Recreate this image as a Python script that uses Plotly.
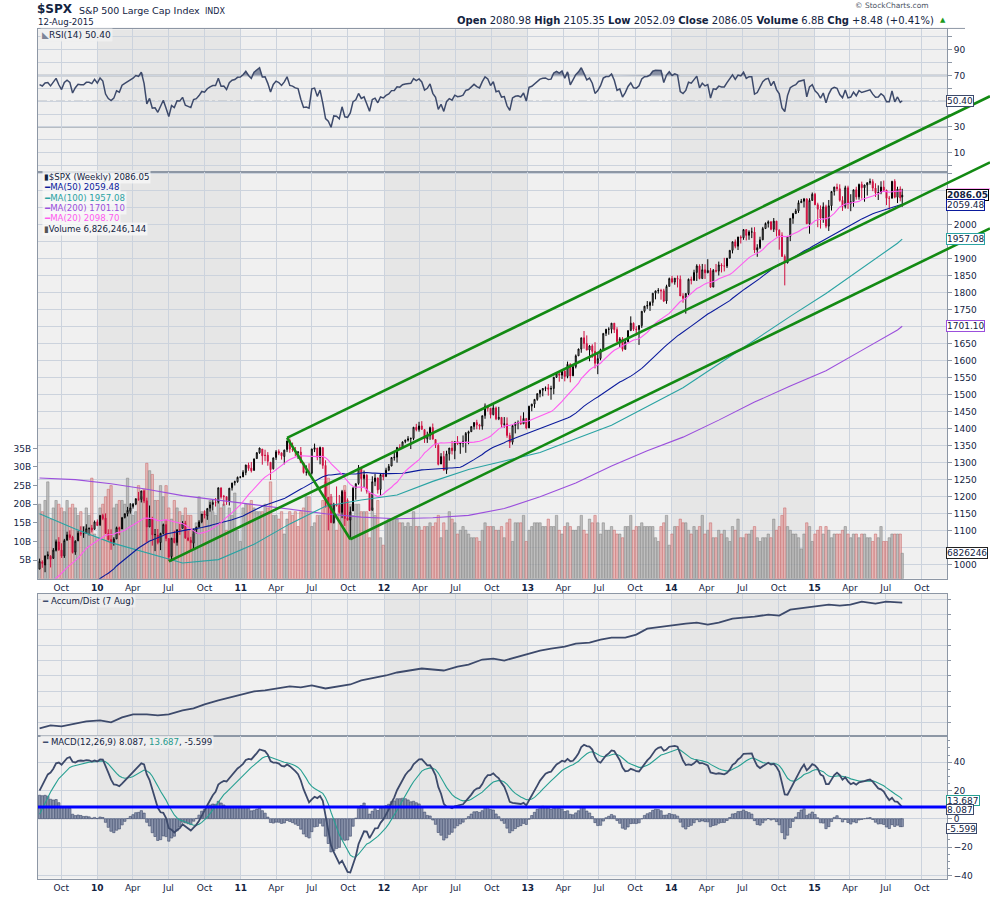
import numpy as np
import pandas as pd
import plotly.graph_objects as go

W, H = 990, 897
FONT = "DejaVu Sans, Verdana, sans-serif"
INK = "#13233f"
GRID = "#ccd3dd"
FRAME = "#8d97a5"
PANEL = "#f0f0f0"
BAND = "#e6e6e6"
LINE = "#3d4a6b"

# ---------------- data : weekly $SPX ----------------
# warm-up closes (Aug 2008 - Jul 2009) used only for indicator history
pre_closes = [1296,1298,1292,1283,1242,1252,1255,1213,1099,899,940,877,968,930,873,800,896,876,879,887,873,
              931,890,850,832,826,869,827,770,735,683,756,769,816,843,857,870,866,877,930,883,887,919,940,946,921,918,897,880,941,979,987]

opens = [
 987,1008,999,1026,1025,1019,1042,1067,1043,1026,1072,1088,1081,1037,1070,1094,1090,1092,1106,1108,1104,1126,
 1117,1145,1137,1092,1074,1066,1076,1109,1105,1139,1150,1157,1171,1178,1194,1192,1217,1188,1111,1136,1088,1087,1065,1092,1118,
 1077,1024,1078,1065,1103,1107,1122,1079,1072,1063,1102,1110,1126,1149,1144,1166,1177,1184,1185,1226,1201,1200,1186,1226,1241,1244,1257,
 1258,1271,1293,1284,1277,1312,1329,1340,1322,1322,1301,1282,1315,1333,1329,1318,1338,1365,1340,1333,1330,1331,1300,1272,1272,
 1269,1339,1343,1315,1344,1292,1198,1179,1124,1177,1174,1153,1214,1137,1131,1158,1225,1239,1284,1253,1263,1213,1160,1244,1255,1221,1265,
 1259,1278,1290,1315,1316,1345,1343,1362,1366,1370,1371,1404,1397,1408,1397,1370,1379,1403,1368,1351,1296,1318,1278,1326,1343,1335,
 1362,1355,1357,1363,1386,1391,1406,1418,1411,1407,1438,1466,1460,1441,1461,1429,1433,1412,1414,1380,1360,1409,1416,1418,1414,1430,
 1402,1466,1472,1486,1503,1513,1518,1520,1516,1518,1551,1561,1557,1569,1553,1589,1555,1582,1614,1634,1667,1650,1631,1643,1627,1592,
 1606,1632,1680,1692,1692,1710,1691,1656,1664,1633,1655,1688,1710,1692,1691,1703,1745,1760,1762,1771,1798,1805,1806,1805,1775,1818,
 1841,1831,1842,1839,1790,1783,1797,1839,1836,1859,1878,1841,1867,1858,1865,1816,1865,1863,1881,1878,1878,1901,1924,1949,1936,1963,
 1961,1985,1968,1978,1978,1925,1932,1955,1988,2003,2008,1986,2010,1983,1968,1906,1887,1965,2018,2032,2040,2064,2068,2075,2002,2071,
 2089,2058,2045,2019,2052,1995,2055,2097,2110,2105,2071,2053,2108,2061,2067,2102,2081,2118,2108,2116,2123,2126,
 2107,2093,2094,2110,2101,2077,2077,2127,2080,2104,2081]
highs = [
 1018,1013,1027,1039,1028,1049,1074,1081,1063,1076,1097,1101,1085,1072,1100,1113,1112,1119,1110,1117,1130,1133,
 1146,1150,1151,1104,1104,1081,1112,1112,1139,1151,1170,1181,1181,1195,1214,1217,1220,1197,1174,1141,1105,1105,1094,1121,1132,
 1077,1078,1100,1103,1120,1128,1129,1100,1082,1105,1112,1131,1149,1160,1167,1185,1190,1196,1227,1226,1205,1200,1225,1241,1247,1259,1260,
 1278,1294,1300,1302,1312,1331,1344,1340,1338,1331,1302,1315,1337,1339,1329,1338,1364,1371,1359,1346,1334,1346,1300,1292,1298,
 1341,1356,1343,1347,1346,1307,1199,1208,1182,1230,1205,1220,1220,1195,1171,1228,1239,1293,1284,1277,1266,1213,1260,1267,1256,1266,1270,
 1285,1296,1316,1334,1345,1354,1362,1368,1378,1374,1405,1414,1420,1422,1398,1391,1406,1415,1368,1354,1328,1334,1335,1343,1364,1362,
 1378,1357,1380,1390,1394,1407,1419,1426,1414,1438,1474,1467,1460,1471,1465,1464,1434,1434,1433,1388,1409,1420,1424,1438,1448,1430,
 1467,1473,1486,1503,1514,1519,1524,1531,1526,1552,1564,1563,1570,1573,1597,1592,1586,1618,1635,1667,1687,1674,1646,1648,1654,1620,
 1635,1680,1693,1698,1710,1710,1698,1669,1669,1664,1689,1730,1712,1701,1704,1745,1760,1775,1774,1798,1805,1813,1811,1811,1823,1844,
 1849,1843,1850,1850,1798,1798,1841,1847,1867,1883,1883,1884,1883,1898,1872,1869,1884,1891,1886,1902,1901,1924,1950,1956,1964,1968,
 1986,1985,1983,1991,1992,1942,1964,1993,2006,2012,2009,2019,2010,1986,1977,1912,1965,2018,2034,2046,2071,2075,2078,2077,2077,2094,
 2093,2064,2056,2065,2058,2072,2097,2111,2120,2118,2083,2114,2114,2089,2102,2111,2120,2126,2117,2123,2135,2133,
 2121,2115,2127,2129,2102,2084,2128,2133,2111,2112,2105]
lows = [
 987,991,978,1016,992,1017,1039,1041,1020,1020,1071,1073,1033,1029,1070,1085,1079,1092,1086,1095,1104,1115,
 1114,1131,1091,1071,1044,1056,1076,1087,1105,1136,1142,1150,1165,1175,1188,1183,1181,1066,1111,1056,1040,1060,1043,1089,1069,
 1011,1010,1063,1056,1088,1107,1076,1069,1040,1048,1092,1110,1122,1136,1132,1156,1159,1171,1180,1194,1173,1176,1174,1218,1233,1241,1254,
 1258,1263,1276,1271,1277,1311,1326,1294,1304,1291,1249,1280,1308,1322,1309,1295,1331,1329,1332,1319,1311,1299,1268,1262,1262,
 1265,1331,1307,1295,1282,1168,1101,1122,1121,1171,1150,1137,1114,1131,1075,1158,1191,1235,1215,1226,1209,1158,1160,1231,1209,1203,1248,
 1259,1275,1290,1306,1300,1337,1340,1357,1362,1340,1366,1392,1391,1397,1358,1358,1367,1369,1343,1292,1296,1278,1267,1306,1324,1310,
 1352,1326,1345,1329,1354,1390,1397,1398,1397,1397,1429,1450,1430,1439,1425,1425,1403,1403,1373,1343,1353,1386,1398,1411,1414,1398,
 1402,1451,1461,1482,1492,1495,1510,1497,1485,1501,1549,1538,1546,1539,1548,1536,1555,1577,1614,1623,1635,1630,1598,1608,1577,1560,
 1601,1632,1672,1676,1680,1681,1654,1639,1627,1633,1655,1688,1687,1674,1646,1696,1741,1752,1746,1761,1780,1797,1779,1772,1767,1818,
 1827,1823,1815,1790,1770,1738,1792,1824,1834,1834,1839,1841,1840,1857,1814,1816,1859,1850,1859,1862,1872,1900,1915,1930,1925,1944,
 1955,1953,1955,1960,1916,1905,1928,1954,1988,1991,1983,1978,1965,1926,1906,1821,1886,1951,2002,2031,2034,2064,2050,2002,1973,2069,
 2057,1992,1988,2005,1989,1981,2041,2085,2098,2067,2040,2047,2046,2039,2052,2073,2073,2076,2067,2085,2117,2098,
 2081,2072,2089,2098,2057,2044,2077,2077,2063,2068,2052]
closes = [
 1010,1004,1026,1029,1016,1043,1068,1044,1025,1071,1088,1080,1036,1069,1093,1091,1091,1106,1106,1102,1126,1115,
 1145,1136,1092,1074,1066,1076,1109,1104,1139,1150,1160,1167,1178,1194,1192,1217,1187,1111,1136,1088,1089,1065,1092,1118,1077,
 1023,1078,1065,1103,1102,1122,1079,1072,1065,1105,1110,1126,1149,1146,1165,1176,1183,1183,1226,1199,1200,1189,1225,1240,1244,1257,1258,
 1272,1293,1283,1276,1311,1329,1343,1320,1321,1304,1279,1314,1332,1328,1320,1337,1364,1340,1338,1333,1331,1300,1271,1272,1268,
 1340,1344,1316,1345,1292,1199,1179,1124,1177,1174,1154,1216,1136,1131,1155,1225,1238,1285,1253,1264,1216,1159,1244,1255,1220,1265,1258,
 1278,1289,1315,1316,1345,1343,1361,1366,1370,1371,1404,1397,1408,1398,1370,1379,1403,1369,1353,1295,1318,1278,1326,1343,1335,1362,
 1355,1357,1363,1386,1391,1406,1418,1411,1407,1438,1466,1460,1441,1461,1429,1433,1412,1414,1380,1360,1409,1416,1418,1414,1430,1402,
 1466,1472,1486,1503,1513,1518,1520,1516,1518,1551,1561,1557,1569,1553,1589,1555,1582,1614,1634,1667,1650,1631,1643,1627,1592,1606,
 1632,1680,1692,1692,1710,1691,1656,1664,1633,1655,1688,1710,1692,1691,1703,1745,1760,1762,1771,1798,1805,1806,1805,1775,1818,1841,
 1831,1842,1839,1790,1783,1797,1839,1836,1859,1878,1841,1867,1858,1865,1816,1865,1863,1881,1878,1878,1901,1924,1949,1936,1963,1961,
 1985,1968,1978,1978,1925,1932,1955,1988,2003,2008,1986,2010,1983,1968,1906,1887,1965,2018,2032,2040,2064,2068,2075,2002,2071,2089,
 2058,2045,2019,2052,1995,2055,2097,2110,2105,2071,2053,2108,2061,2067,2102,2081,2118,2108,2116,2123,2126,2107,
 2093,2094,2110,2101,2077,2077,2127,2080,2104,2078,2086]
volume_b = [
 20,18,21,26,16,19,21,20,19,18,21,19,20,19,17,18,14,19,17,27,12,11,
 19,20,22,24,25,19,20,21,21,20,27,20,17,18,25,22,24,31,29,28,21,21,25,22,25,19,16,21,19,18,17,19,17,17,12,15,22,18,18,17,21,18,17,21,19,20,13,19,17,23,13,10,
 19,20,20,21,19,18,18,18,20,19,26,17,17,16,18,12,16,18,17,18,14,18,19,22,22,14,15,17,17,21,26,27,22,20,13,20,22,25,21,20,17,20,20,18,18,18,11,19,17,21,11,9,
 15,16,16,16,16,15,15,14,15,14,18,14,14,13,14,14,15,14,15,17,11,15,13,18,16,15,12,13,14,13,12,11,11,11,10,13,15,14,14,14,13,13,14,11,15,16,10,15,15,15,17,10,
 13,14,15,15,15,14,14,16,14,14,17,13,12,14,15,14,13,13,14,17,13,12,16,15,17,15,12,15,13,13,14,13,12,12,11,14,14,17,13,14,14,15,14,14,14,14,11,10,14,15,17,9,
 12,14,14,16,15,15,13,12,14,13,14,17,12,13,15,11,11,13,12,13,11,10,14,13,16,11,11,12,12,13,14,11,10,11,11,12,11,16,13,14,17,19,14,13,12,12,11,8,12,15,14,10,
 12,13,14,12,14,13,11,12,12,12,13,14,12,11,12,12,11,12,12,11,11,10,12,11,14,10,10,11,12,12,12,12,6.83]
first_friday = "2009-08-07"
last_day = "2015-08-12"

# longer averages and Accum/Dist
ma_dates = ['2009-08-07','2009-11-06','2010-02-05','2010-05-07','2010-08-06','2010-11-05','2011-02-04','2011-05-06',
            '2011-08-05','2011-11-04','2012-02-03','2012-05-04','2012-08-03','2012-11-02','2013-02-01','2013-05-03',
            '2013-08-02','2013-11-01','2014-01-31','2014-05-02','2014-08-01','2014-10-31','2015-01-30','2015-05-01',
            '2015-07-31','2015-08-12']
ma100_vals = [1150,1105,1065,1035,1005,1015,1060,1120,1172,1190,1205,1245,1280,1305,1330,1370,1410,1465,1520,1590,
              1660,1730,1797,1870,1945,1957]
ma200_vals = [1255,1250,1238,1222,1203,1190,1177,1163,1150,1140,1135,1138,1145,1165,1200,1240,1290,1335,1375,1425,
              1478,1525,1570,1630,1690,1701]
ad_dates = ['2009-08-07','2009-09-04','2009-10-02','2009-11-06','2009-12-04',
            '2010-01-08','2010-02-05','2010-03-05','2010-04-02','2010-05-07','2010-06-04','2010-07-02','2010-08-06',
            '2010-09-03','2010-10-01','2010-11-05','2010-12-03',
            '2011-01-07','2011-02-04','2011-03-04','2011-04-01','2011-05-06','2011-06-03','2011-07-01','2011-08-05',
            '2011-09-02','2011-10-07','2011-11-04','2011-12-02',
            '2012-01-06','2012-02-03','2012-03-02','2012-04-06','2012-05-04','2012-06-01','2012-07-06','2012-08-03',
            '2012-09-07','2012-10-05','2012-11-02','2012-12-07',
            '2013-01-04','2013-02-01','2013-03-01','2013-04-05','2013-05-03','2013-06-07','2013-07-05','2013-08-02',
            '2013-09-06','2013-10-04','2013-11-01','2013-12-06',
            '2014-01-03','2014-02-07','2014-03-07','2014-04-04','2014-05-02','2014-06-06','2014-07-03','2014-08-01',
            '2014-09-05','2014-10-03','2014-10-31','2014-12-05',
            '2015-01-02','2015-02-06','2015-03-06','2015-04-02','2015-05-01','2015-06-05','2015-07-02','2015-07-31',
            '2015-08-12']
ad_vals = [8,11,10,13,15,
           16,14,19,22,22,21,22,26,28,32,36,39,
           42,45,46,48,50,49,51,48,50,52,56,58,
           61,64,66,68,67,66,70,72,77,78,76,80,
           83,86,88,90,93,94,97,99,99,102,108,110,
           111,113,114,112,114,118,119,120,122,121,127,129,
           130,132,131,132,135,133,135,134,134]

# Andrews pitchfork anchors (pivot low, high, low)
pf_dates = ["2010-07-02", "2011-04-29", "2011-10-07"]
pf_prices = [1010, 1373, 1075]

tick_text = ["Oct","<b>10</b>","Apr","Jul","Oct","<b>11</b>","Apr","Jul","Oct","<b>12</b>","Apr","Jul","Oct",
             "<b>13</b>","Apr","Jul","Oct","<b>14</b>","Apr","Jul","Oct","<b>15</b>","Apr","Jul","Oct"]
price_ticks = list(range(1000, 2151, 50))
price_labels = ["" if v in (1050, 1700, 1950, 2050, 2100, 2150) else str(v) for v in price_ticks]
x_range = ["2009-08-03", "2015-12-04"]

n = len(closes)
assert len(opens) == n and len(highs) == n and len(lows) == n and len(volume_b) == n
assert len(ad_dates) == len(ad_vals) and len(ma_dates) == len(ma100_vals) == len(ma200_vals)
dates = list(pd.date_range(first_friday, periods=n - 1, freq="7D")) + [pd.Timestamp(last_day)]
tick_vals = list(pd.date_range("2009-10-01", "2015-10-01", freq="QS"))

# ---------------- indicators ----------------
allc = pd.Series(pre_closes + closes, dtype=float)
n0 = len(pre_closes)
ma20 = allc.rolling(20).mean().iloc[n0:].to_numpy()
ma50 = allc.rolling(50).mean().iloc[n0:].to_numpy()
dlt = allc.diff()
ag = dlt.clip(lower=0).ewm(alpha=1/14, adjust=False).mean()
al = (-dlt.clip(upper=0)).ewm(alpha=1/14, adjust=False).mean()
rsi = (100 - 100 / (1 + ag / al)).iloc[n0:].to_numpy()
macd_all = allc.ewm(span=12, adjust=False).mean() - allc.ewm(span=26, adjust=False).mean()
sig_all = macd_all.ewm(span=9, adjust=False).mean()
macd = macd_all.iloc[n0:].to_numpy()
sig = sig_all.iloc[n0:].to_numpy()
hist = macd - sig
down = (dlt.iloc[n0:] < 0).to_numpy()

# ---------------- geometry ----------------
def fx(p): return p / W
def fy(p): return 1 - p / H
L_PX, R_PX = 38, 947
XD = [fx(L_PX), fx(R_PX)]
P_TOP, P_BOT = 172, 580
price_rng = [958.9, 2155.4]

xr0, xr1 = pd.Timestamp(x_range[0]), pd.Timestamp(x_range[1])
dpp = (xr1 - xr0) / (R_PX - L_PX)
x6_rng = [xr0 - dpp * L_PX, xr1 + dpp * (W - R_PX)]
upp = (price_rng[1] - price_rng[0]) / (P_BOT - P_TOP)
y6_rng = [price_rng[0] - upp * (H - P_BOT), price_rng[1] + upp * P_TOP]

def days(t): return (pd.Timestamp(t) - xr0) / pd.Timedelta(days=1)
def tod(d): return xr0 + pd.Timedelta(days=d)
ax_, bx_, cx_ = [days(t) for t in pf_dates]
ay_, by_, cy_ = pf_prices
slope = ((by_ + cy_) / 2 - ay_) / ((bx_ + cx_) / 2 - ax_)
xe = days(x6_rng[1])
pfx, pfy = [], []
for (sx, sy) in [(ax_, ay_), (bx_, by_), (cx_, cy_)]:
    pfx += [tod(sx), tod(xe), None]
    pfy += [sy, sy + slope * (xe - sx), None]
pfx += [tod(bx_), tod(cx_)]
pfy += [by_, cy_]

# ---------------- traces ----------------
fig = go.Figure()
# RSI
fig.add_trace(go.Scatter(x=dates, y=[70] * n, mode="lines", line=dict(width=0), xaxis="x", yaxis="y", hoverinfo="skip"))
fig.add_trace(go.Scatter(x=dates, y=np.maximum(rsi, 70), mode="lines", line=dict(width=0), fill="tonexty",
                         fillcolor="#8a92a6", xaxis="x", yaxis="y", hoverinfo="skip"))
fig.add_trace(go.Scatter(x=dates, y=rsi, mode="lines", line=dict(color=LINE, width=1.5), xaxis="x", yaxis="y", hoverinfo="skip"))

# volume (base of price panel)
vfill = ["rgba(228,160,160,0.65)" if d else "rgba(172,172,172,0.72)" for d in down]
vline = ["rgba(200,100,100,0.85)" if d else "rgba(128,128,128,0.85)" for d in down]
fig.add_trace(go.Bar(x=dates, y=volume_b, width=6 * 86400000, marker=dict(color=vfill, line=dict(color=vline, width=0.6)),
                     xaxis="x2", yaxis="y2", hoverinfo="skip"))
# moving averages
fig.add_trace(go.Scatter(x=ma_dates, y=ma200_vals, mode="lines", line=dict(color="#9b4fdc", width=1.1), xaxis="x2", yaxis="y3", hoverinfo="skip"))
fig.add_trace(go.Scatter(x=ma_dates, y=ma100_vals, mode="lines", line=dict(color="#2aa3a3", width=1.1), xaxis="x2", yaxis="y3", hoverinfo="skip"))
fig.add_trace(go.Scatter(x=dates, y=ma50, mode="lines", line=dict(color="#0a1a9c", width=1.1), xaxis="x2", yaxis="y3", hoverinfo="skip"))
fig.add_trace(go.Scatter(x=dates, y=ma20, mode="lines", line=dict(color="#ff5cf0", width=1.1), xaxis="x2", yaxis="y3", hoverinfo="skip"))
# candles
fig.add_trace(go.Candlestick(x=dates, open=opens, high=highs, low=lows, close=closes, whiskerwidth=0,
                             increasing=dict(line=dict(color="#000000", width=1), fillcolor="#ffffff"),
                             decreasing=dict(line=dict(color="#cf1040", width=1), fillcolor="#cf1040"),
                             xaxis="x2", yaxis="y3", hoverinfo="skip"))
# Accum/Dist
fig.add_trace(go.Scatter(x=ad_dates, y=ad_vals, mode="lines", line=dict(color=LINE, width=1.8), xaxis="x4", yaxis="y4", hoverinfo="skip"))
# MACD
fig.add_trace(go.Bar(x=dates, y=hist, width=6 * 86400000, marker=dict(color="#8d96ad", line=dict(color="#3d4a6b", width=0.6)),
                     xaxis="x5", yaxis="y5", hoverinfo="skip"))
fig.add_trace(go.Scatter(x=dates, y=sig, mode="lines", line=dict(color="#27a092", width=1.1), xaxis="x5", yaxis="y5", hoverinfo="skip"))
fig.add_trace(go.Scatter(x=dates, y=macd, mode="lines", line=dict(color=LINE, width=1.8), xaxis="x5", yaxis="y5", hoverinfo="skip"))
# pitchfork on a full-page overlay
fig.add_trace(go.Scatter(x=pfx, y=pfy, mode="lines", line=dict(color="#138a13", width=2.6), xaxis="x6", yaxis="y6", hoverinfo="skip"))

# ---------------- axes ----------------
tf = dict(family=FONT, size=9, color=INK)
def xax(anchor, labels):
    return dict(type="date", range=x_range, domain=XD, anchor=anchor, tickvals=tick_vals, ticktext=tick_text,
                showticklabels=labels, showgrid=True, gridcolor=GRID, gridwidth=1, showline=True, linecolor=FRAME,
                linewidth=1, mirror=True, ticks="", zeroline=False, fixedrange=True, tickfont=tf)

def yax(anchor, dom, rng, **kw):
    d = dict(domain=dom, range=rng, anchor=anchor, side="right", showgrid=True, gridcolor=GRID, gridwidth=1,
             showline=True, linecolor=FRAME, linewidth=1, mirror=True, ticks="outside", ticklen=4, tickcolor=FRAME,
             zeroline=False, fixedrange=True, tickfont=tf)
    d.update(kw)
    return d

layout = dict(
    width=W, height=H, margin=dict(l=0, r=0, t=0, b=0, pad=0), paper_bgcolor="white",
    plot_bgcolor="rgba(0,0,0,0)", showlegend=False, hovermode=False, bargap=0,
    xaxis=xax("y", False),
    yaxis=yax("x", [fy(172), fy(29.5)], [-4.7, 105.8], tickvals=list(range(0, 101, 10)),
              ticktext=["", "10", "", "30", "", "", "", "70", "", "90", ""]),
    xaxis2=dict(xax("y2", True), rangeslider=dict(visible=False)),
    yaxis2=yax("x2", [fy(P_BOT), fy(P_TOP)], [0, 109.3], side="left", showgrid=False,
               tickvals=[5, 10, 15, 20, 25, 30, 35], ticktext=["5B", "10B", "15B", "20B", "25B", "30B", "35B"]),
    yaxis3=yax("x2", [fy(P_BOT), fy(P_TOP)], price_rng, overlaying="y2", showline=False,
               tickvals=price_ticks, ticktext=price_labels),
    xaxis4=xax("y4", False),
    yaxis4=yax("x4", [fy(738), fy(595)], [0, 143], tick0=14.3, dtick=15.4, showticklabels=False, ticklen=3),
    xaxis5=xax("y5", True),
    yaxis5=yax("x5", [fy(880.7), fy(738)], [-42.4, 58.2], tickvals=[-40, -20, 0, 20, 40],
               minor=dict(dtick=5, ticks="outside", ticklen=2, tickcolor=FRAME, showgrid=False)),
    xaxis6=dict(type="date", domain=[0, 1], range=x6_rng, anchor="y6", visible=False, fixedrange=True),
    yaxis6=dict(domain=[0, 1], range=y6_rng, anchor="x6", visible=False, fixedrange=True),
)
fig.update_layout(**layout)

# ---------------- shapes ----------------
shapes = []
panels = [("x", "y"), ("x2", "y2"), ("x4", "y4"), ("x5", "y5")]
for xr, yr in panels:
    shapes.append(dict(type="rect", xref=f"{xr} domain", yref=f"{yr} domain", x0=0, x1=1, y0=0, y1=1,
                       fillcolor=PANEL, line=dict(width=0), layer="below"))
    for yy in (2010, 2012, 2014):
        shapes.append(dict(type="rect", xref=xr, yref=f"{yr} domain", x0=f"{yy}-01-01", x1=f"{yy+1}-01-01",
                           y0=0, y1=1, fillcolor=BAND, line=dict(width=0), layer="below"))
for lv in (70, 30):
    shapes.append(dict(type="line", xref="x domain", yref="y", x0=0, x1=1, y0=lv, y1=lv,
                       line=dict(color="#7d8796", width=1.3), layer="below"))
shapes.append(dict(type="line", xref="x domain", yref="y", x0=0, x1=1, y0=50, y1=50,
                   line=dict(color="#8d97a5", width=1, dash="dashdot"), layer="below"))
shapes.append(dict(type="line", xref="x5 domain", yref="y5", x0=0, x1=1, y0=8.3, y1=8.3,
                   line=dict(color="#0000ff", width=3)))
shapes.append(dict(type="line", xref="paper", yref="paper", x0=fx(38), x1=fx(965), y0=fy(28.5), y1=fy(28.5),
                   line=dict(color=FRAME, width=1)))
# edge of the MA(20) value tag, hidden behind the close tag
shapes.append(dict(type="line", xref="paper", yref="paper", x0=fx(947), x1=fx(990), y0=fy(189.6), y1=fy(189.6),
                   line=dict(color="#ff5cf0", width=1.2)))
fig.update_layout(shapes=shapes)

# ---------------- annotations ----------------
ann = []
def txt(x, y, text, size=9, color=INK, xanchor="left", yanchor="middle", **kw):
    d = dict(xref="paper", yref="paper", x=fx(x), y=fy(y), text=text, showarrow=False, xanchor=xanchor,
             yanchor=yanchor, font=dict(family=FONT, size=size, color=color))
    d.update(kw)
    ann.append(d)

txt(35, 9.5, "<b>$SPX</b>", size=12)
txt(77, 11, "S&amp;P 500 Large Cap Index", size=9.5)
txt(203, 11.5, "INDX", size=8)
txt(36, 22.5, "12-Aug-2015", size=8.6)
txt(936, 20.5, "<b>Open</b> 2080.98 <b>High</b> 2105.35 <b>Low</b> 2052.09 <b>Close</b> 2086.05 "
               "<b>Volume</b> 6.8B <b>Chg</b> +8.48 (+0.41%)", size=10, xanchor="right")
txt(938, 20.5, "▲", size=7, color="#1c9a1c")
txt(931, 6, "© StockCharts.com", size=7.5, color="#4a5262", xanchor="right")

txt(40, 35.5, "<span style='color:#7d8598'>◣</span>RSI(14) 50.40", size=9, bgcolor="rgba(240,240,240,0.85)")

leg = [("▮", INK, "$SPX (Weekly) 2086.05"), ("━", "#0a1a9c", "MA(50) 2059.48"), ("━", "#2aa3a3", "MA(100) 1957.08"),
       ("━", "#9b4fdc", "MA(200) 1701.10"), ("━", "#ff5cf0", "MA(20) 2098.70"), ("▮", "#555555", "Volume 6,826,246,144")]
for i, (ic, col, t) in enumerate(leg):
    txt(42, 177.5 + i * 10.35, f"<span style='color:{col}'>{ic}</span>{t}", size=8.6,
        color=(INK if i in (0, 5) else col), bgcolor="rgba(248,248,248,0.75)")

txt(40, 602, f"<span style='color:{LINE}'>━</span> Accum/Dist (7 Aug)", size=8.6, bgcolor="rgba(240,240,240,0.85)")
txt(40, 744, f"<span style='color:{LINE}'>━</span> MACD(12,26,9) 8.087, <span style='color:#1f9a8c'>13.687</span>, -5.599",
    size=8.6, bgcolor="rgba(240,240,240,0.85)")

def vbox(yref, yval, text, border, bold=False, yshift=0, color=INK, h=10):
    ann.append(dict(xref="paper", x=fx(946), xanchor="left", yref=yref, y=yval, yanchor="middle",
                    text=(f"<b>{text}</b>" if bold else text), showarrow=False,
                    font=dict(family=FONT, size=9, color=color), bgcolor="white", bordercolor=border,
                    borderwidth=1, borderpad=0, height=h, yshift=yshift))

vbox("y", 50.40, "50.40", LINE)
vbox("y3", 2086.05, "2086.05", "#000000", bold=True)
vbox("y3", 2059.48, "2059.48", "#0a1a9c", yshift=-1)
vbox("y3", 1957.08, "1957.08", "#2aa3a3")
vbox("y3", 1701.10, "1701.10", "#9b4fdc")
vbox("y2", 6.83, "6826246", "#222222")
vbox("y5", 13.687, "13.687", "#27a092", yshift=-1.5, h=9)
vbox("y5", 8.087, "8.087", LINE, yshift=-2.5, h=9)
vbox("y5", -5.599, "-5.599", LINE, yshift=-2, h=9)

fig.update_layout(annotations=ann)

fig.write_html("out.html", include_plotlyjs=True, full_html=True,
               config={"displayModeBar": False, "staticPlot": True},
               post_script="document.body.style.margin='0px';document.body.style.overflow='hidden';")
